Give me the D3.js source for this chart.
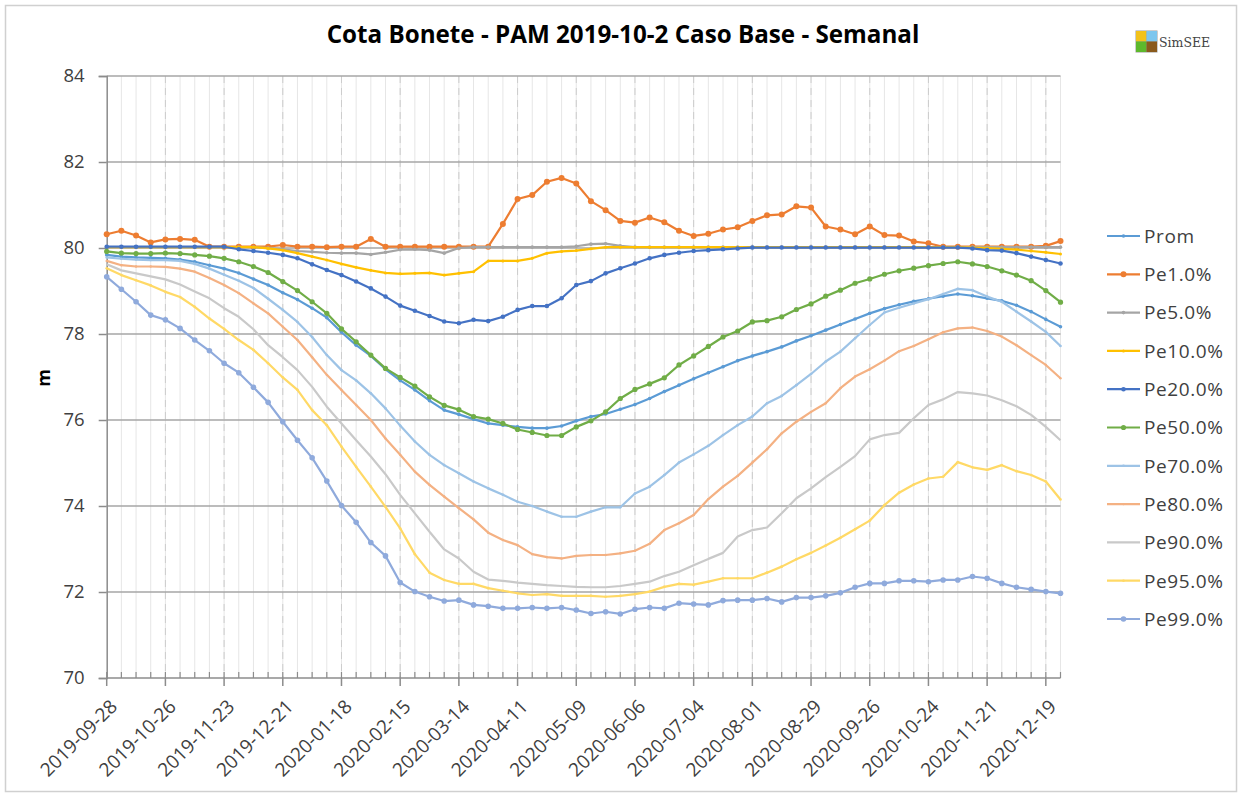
<!DOCTYPE html>
<html>
<head>
<meta charset="utf-8">
<script src="https://cdn.jsdelivr.net/npm/d3@7"></script>
<style>
  body{margin:0;background:#fff;}
  text{font-family:"Open Sans",sans-serif;}
</style>
</head>
<body>
<svg id="chart" width="1241" height="796"></svg>
<script>
/* Cota Bonete - PAM 2019-10-2 Caso Base - Semanal */

/* ---------- DATA ---------- */
const START_DATE = "2019-09-28";   // first week, then one point per week
const TICK_LABELS = ["2019-09-28","2019-10-26","2019-11-23","2019-12-21","2020-01-18","2020-02-15",
  "2020-03-14","2020-04-11","2020-05-09","2020-06-06","2020-07-04","2020-08-01","2020-08-29",
  "2020-09-26","2020-10-24","2020-11-21","2020-12-19"];
const Y_TICKS = [70,72,74,76,78,80,82,84];

const prom = [79.84,79.80,79.78,79.77,79.76,79.73,79.68,79.60,79.52,79.42,79.28,79.14,78.96,78.80,78.60,78.38,
  78.04,77.74,77.49,77.18,76.92,76.70,76.45,76.23,76.13,76.02,75.92,75.88,75.84,75.81,75.81,75.86,75.98,76.08,
  76.14,76.25,76.36,76.50,76.66,76.81,76.96,77.10,77.24,77.38,77.49,77.59,77.70,77.84,77.96,78.09,78.22,78.35,
  78.48,78.59,78.68,78.76,78.82,78.88,78.93,78.89,78.83,78.77,78.67,78.52,78.34,78.17];
const pe1 = [80.32,80.40,80.29,80.13,80.20,80.21,80.19,80.03,80.03,80.03,80.03,80.03,80.07,80.03,80.03,80.02,
  80.03,80.03,80.21,80.03,80.03,80.03,80.03,80.03,80.03,80.03,80.03,80.56,81.14,81.23,81.54,81.63,81.50,81.09,
  80.88,80.63,80.59,80.71,80.60,80.40,80.28,80.33,80.43,80.48,80.63,80.76,80.78,80.97,80.94,80.50,80.43,80.32,
  80.50,80.30,80.29,80.15,80.11,80.03,80.03,80.03,80.03,80.03,80.03,80.03,80.05,80.16];
const pe5 = [80.02,80.02,80.02,80.02,80.02,80.02,80.02,80.02,80.02,80.02,80.02,80.00,79.97,79.93,79.91,79.89,
  79.88,79.88,79.85,79.90,79.96,79.97,79.95,79.88,80.00,80.02,80.02,80.02,80.02,80.02,80.02,80.02,80.04,80.09,
  80.10,80.05,80.02,80.02,80.02,80.02,80.02,80.02,80.02,80.02,80.02,80.02,80.02,80.02,80.02,80.02,80.02,80.02,
  80.02,80.02,80.02,80.02,80.02,80.02,80.02,80.02,80.02,80.02,80.02,80.02,80.02,80.02];
const pe10 = [80.02,80.02,80.02,80.02,80.02,80.02,80.02,80.02,80.02,80.02,80.02,79.99,79.95,79.88,79.80,79.72,
  79.63,79.55,79.48,79.42,79.40,79.41,79.42,79.37,79.41,79.45,79.70,79.70,79.70,79.76,79.88,79.92,79.94,79.98,
  80.02,80.02,80.02,80.02,80.02,80.02,80.02,80.02,80.02,80.02,80.02,80.02,80.02,80.02,80.02,80.02,80.02,80.02,
  80.02,80.02,80.02,80.02,80.02,80.02,80.02,80.01,80.00,79.98,79.96,79.93,79.90,79.86];
const pe20 = [80.03,80.03,80.03,80.03,80.03,80.03,80.03,80.03,80.03,79.97,79.93,79.89,79.84,79.76,79.62,79.49,
  79.37,79.22,79.06,78.87,78.66,78.54,78.42,78.29,78.25,78.33,78.30,78.40,78.56,78.65,78.65,78.83,79.14,79.23,
  79.41,79.53,79.64,79.76,79.84,79.89,79.93,79.95,79.97,79.99,80.01,80.01,80.01,80.01,80.01,80.01,80.01,80.01,
  80.01,80.01,80.01,80.01,80.01,80.01,80.01,79.99,79.95,79.94,79.88,79.80,79.72,79.64];
const pe50 = [79.92,79.88,79.87,79.87,79.88,79.87,79.84,79.81,79.76,79.68,79.57,79.43,79.22,79.01,78.75,78.48,
  78.12,77.82,77.51,77.20,76.99,76.79,76.54,76.34,76.24,76.08,76.02,75.92,75.78,75.71,75.64,75.64,75.84,75.98,
  76.19,76.50,76.71,76.84,76.98,77.28,77.49,77.71,77.93,78.07,78.28,78.31,78.40,78.57,78.70,78.88,79.02,79.18,
  79.28,79.39,79.47,79.53,79.59,79.64,79.68,79.63,79.57,79.47,79.37,79.24,79.01,78.74];
const pe70 = [79.78,79.75,79.73,79.72,79.72,79.70,79.63,79.52,79.38,79.24,79.07,78.82,78.56,78.28,77.93,77.51,
  77.16,76.92,76.62,76.27,75.87,75.50,75.19,74.95,74.76,74.57,74.41,74.26,74.10,74.00,73.87,73.75,73.75,73.87,
  73.97,73.97,74.29,74.45,74.72,75.01,75.20,75.40,75.65,75.88,76.08,76.39,76.56,76.81,77.07,77.36,77.59,77.90,
  78.21,78.50,78.61,78.71,78.81,78.93,79.05,79.02,78.87,78.75,78.52,78.29,78.05,77.72];
const pe80 = [79.70,79.60,79.57,79.57,79.56,79.52,79.45,79.30,79.14,78.95,78.71,78.48,78.17,77.86,77.46,77.05,
  76.70,76.35,76.00,75.57,75.19,74.80,74.49,74.22,73.95,73.69,73.38,73.21,73.09,72.88,72.81,72.78,72.84,72.86,
  72.86,72.90,72.96,73.12,73.44,73.60,73.79,74.16,74.45,74.70,75.01,75.32,75.69,75.96,76.19,76.39,76.74,77.01,
  77.18,77.38,77.60,77.72,77.88,78.04,78.13,78.15,78.07,77.94,77.74,77.51,77.28,76.97];
const pe90 = [79.62,79.48,79.41,79.34,79.27,79.15,78.99,78.83,78.60,78.40,78.11,77.74,77.46,77.16,76.77,76.31,
  75.92,75.53,75.15,74.74,74.26,73.83,73.40,72.99,72.78,72.47,72.29,72.26,72.22,72.19,72.16,72.14,72.12,72.11,
  72.11,72.14,72.19,72.24,72.37,72.47,72.62,72.77,72.91,73.29,73.44,73.50,73.83,74.18,74.41,74.67,74.91,75.16,
  75.55,75.65,75.70,76.04,76.35,76.48,76.65,76.62,76.57,76.46,76.32,76.12,75.84,75.53];
const pe95 = [79.53,79.37,79.25,79.13,78.98,78.86,78.63,78.36,78.12,77.86,77.63,77.32,76.99,76.70,76.23,75.88,
  75.38,74.91,74.45,73.98,73.48,72.88,72.45,72.28,72.19,72.19,72.09,72.03,71.97,71.93,71.95,71.91,71.91,71.91,
  71.89,71.91,71.95,72.01,72.12,72.19,72.17,72.24,72.32,72.32,72.32,72.45,72.59,72.76,72.91,73.08,73.26,73.46,
  73.66,74.02,74.31,74.50,74.64,74.68,75.02,74.90,74.84,74.95,74.81,74.72,74.57,74.15];
const pe99 = [79.33,79.04,78.75,78.44,78.33,78.13,77.86,77.61,77.32,77.10,76.76,76.41,75.96,75.53,75.12,74.58,
  74.01,73.62,73.15,72.84,72.22,72.01,71.89,71.79,71.81,71.70,71.67,71.62,71.62,71.64,71.62,71.64,71.58,71.50,
  71.54,71.49,71.60,71.64,71.62,71.74,71.72,71.70,71.80,71.81,71.81,71.85,71.77,71.87,71.87,71.91,71.98,72.11,
  72.20,72.20,72.26,72.26,72.24,72.28,72.28,72.36,72.32,72.20,72.11,72.06,72.01,71.97];

const SERIES_NAMES = ["Prom","Pe1.0%","Pe5.0%","Pe10.0%","Pe20.0%","Pe50.0%","Pe70.0%","Pe80.0%","Pe90.0%","Pe95.0%","Pe99.0%"];
const SERIES_VALUES = [prom,pe1,pe5,pe10,pe20,pe50,pe70,pe80,pe90,pe95,pe99];

/* ---------- STYLE ---------- */
const COLORS = ["#5B9BD5","#ED7D31","#A5A5A5","#FFC000","#4472C4","#70AD47","#9DC3E6","#F4B183","#C9C9C9","#FFD966","#8FAADC"];
const MARK_R = [1.8,3,1.8,1.5,2.3,2.6,1.3,1.2,0,1.3,2.8];

const W = 1241, H = 796;
const PLOT = {left:106.7, right:1060.5, top:76, bottom:678};

const svg = d3.select("#chart");
const parse = d3.timeParse("%Y-%m-%d");
const start = parse(START_DATE);
const dates = prom.map((_,i)=>d3.timeDay.offset(start, 7*i));
const majorDates = TICK_LABELS.map(parse);

const x = d3.scaleTime().domain([dates[0], dates[dates.length-1]]).range([PLOT.left, PLOT.right]);
const y = d3.scaleLinear().domain([70,84]).range([PLOT.bottom, PLOT.top]);

/* frame */
svg.append("rect").attr("x",5.5).attr("y",5.5).attr("width",W-10).attr("height",H-10)
  .attr("fill","#fff").attr("stroke","#d0d0d0").attr("stroke-width",1.5);

/* title */
svg.append("text").attr("x",623).attr("y",43).attr("text-anchor","middle")
  .style("font-size","24.2px").style("font-weight","bold").attr("fill","#000")
  .text("Cota Bonete - PAM 2019-10-2 Caso Base - Semanal");

/* SimSEE logo */
const logo = svg.append("g").attr("transform","translate(1136,31)");
logo.append("rect").attr("x",-0.5).attr("y",-0.5).attr("width",22).attr("height",22).attr("fill","#9a9a9a");
[["#F2C21A",0,0],["#7CC6EE",10.5,0],["#5DB82C",0,10.5],["#8A5A1C",10.5,10.5]].forEach(([c,dx,dy])=>
  logo.append("rect").attr("x",dx).attr("y",dy).attr("width",10.5).attr("height",10.5).attr("fill",c));
svg.append("text").attr("x",1159).attr("y",47).style("font-family","'DejaVu Serif',serif")
  .style("font-size","12.5px").attr("fill","#444").text("SimSEE");

/* vertical gridlines: every week, dashed on major ticks */
const gridV = svg.append("g");
gridV.selectAll("line.minor").data(dates.slice(1)).enter().append("line")
  .attr("x1",d=>x(d)).attr("x2",d=>x(d)).attr("y1",PLOT.top).attr("y2",PLOT.bottom)
  .attr("stroke","#e6e6e6").attr("stroke-width",1);
gridV.selectAll("line.major").data(majorDates.slice(1)).enter().append("line")
  .attr("x1",d=>x(d)).attr("x2",d=>x(d)).attr("y1",PLOT.top).attr("y2",PLOT.bottom)
  .attr("stroke","#cccccc").attr("stroke-width",1).attr("stroke-dasharray","7,5");

/* horizontal gridlines */
svg.append("g").selectAll("line").data(Y_TICKS.slice(1)).enter().append("line")
  .attr("x1",PLOT.left).attr("x2",PLOT.right).attr("y1",d=>y(d)).attr("y2",d=>y(d))
  .attr("stroke","#a6a6a6").attr("stroke-width",1.5);

/* y axis */
const yAx = svg.append("g").attr("transform",`translate(${PLOT.left},0)`)
  .call(d3.axisLeft(y).tickValues(Y_TICKS).tickSize(8).tickPadding(14));
yAx.select(".domain").attr("stroke","#8c8c8c").attr("stroke-width",1.5);
yAx.selectAll(".tick line").attr("stroke","#8c8c8c").attr("stroke-width",1.5);
yAx.selectAll("text").style("font-size","18.5px").style("font-family","'Open Sans',sans-serif").attr("fill","#404040");

svg.append("text").attr("transform","translate(50,378) rotate(-90)").attr("text-anchor","middle")
  .style("font-size","18px").style("font-weight","bold").attr("fill","#000").text("m");

/* x axis: minor ticks inside, major ticks outside */
const xAx = svg.append("g").attr("transform",`translate(0,${PLOT.bottom})`);
xAx.append("line").attr("x1",PLOT.left).attr("x2",PLOT.right).attr("stroke","#8c8c8c").attr("stroke-width",1.5);
xAx.selectAll("line.mt").data(dates).enter().append("line")
  .attr("x1",d=>x(d)).attr("x2",d=>x(d)).attr("y1",0).attr("y2",-6)
  .attr("stroke","#8c8c8c").attr("stroke-width",1.2);
xAx.selectAll("line.Mt").data(majorDates).enter().append("line")
  .attr("x1",d=>x(d)).attr("x2",d=>x(d)).attr("y1",0).attr("y2",8)
  .attr("stroke","#8c8c8c").attr("stroke-width",1.5);
xAx.selectAll("text").data(TICK_LABELS).enter().append("text")
  .attr("transform",(d,i)=>`translate(${x(majorDates[i])+7},${25}) rotate(-45)`)
  .attr("text-anchor","end").attr("dy","0.35em")
  .style("font-size","19px").attr("fill","#404040").text(d=>d);

/* series */
const line = d3.line().x((d,i)=>x(dates[i])).y(d=>y(d));
const gSeries = svg.append("g");
SERIES_VALUES.forEach((vals,k)=>{
  const g = gSeries.append("g");
  g.append("path").datum(vals).attr("d",line).attr("fill","none")
    .attr("stroke",COLORS[k]).attr("stroke-width",2.2).attr("stroke-linejoin","round");
  if(MARK_R[k]>0)
    g.selectAll("circle").data(vals).enter().append("circle")
      .attr("cx",(d,i)=>x(dates[i])).attr("cy",d=>y(d)).attr("r",MARK_R[k]).attr("fill",COLORS[k]);
});

/* legend */
const leg = svg.append("g").attr("transform","translate(1107,236)");
SERIES_NAMES.forEach((name,k)=>{
  const row = leg.append("g").attr("transform",`translate(0,${k*38.3})`);
  row.append("line").attr("x1",0).attr("x2",33).attr("stroke",COLORS[k]).attr("stroke-width",2.2);
  if(MARK_R[k]>0) row.append("circle").attr("cx",16.5).attr("r",MARK_R[k]).attr("fill",COLORS[k]);
  row.append("text").attr("x",37).attr("dy","0.36em").style("font-size","19px")
    .style("letter-spacing","0.6px").attr("fill","#404040").text(name);
});
</script>
</body>
</html>
